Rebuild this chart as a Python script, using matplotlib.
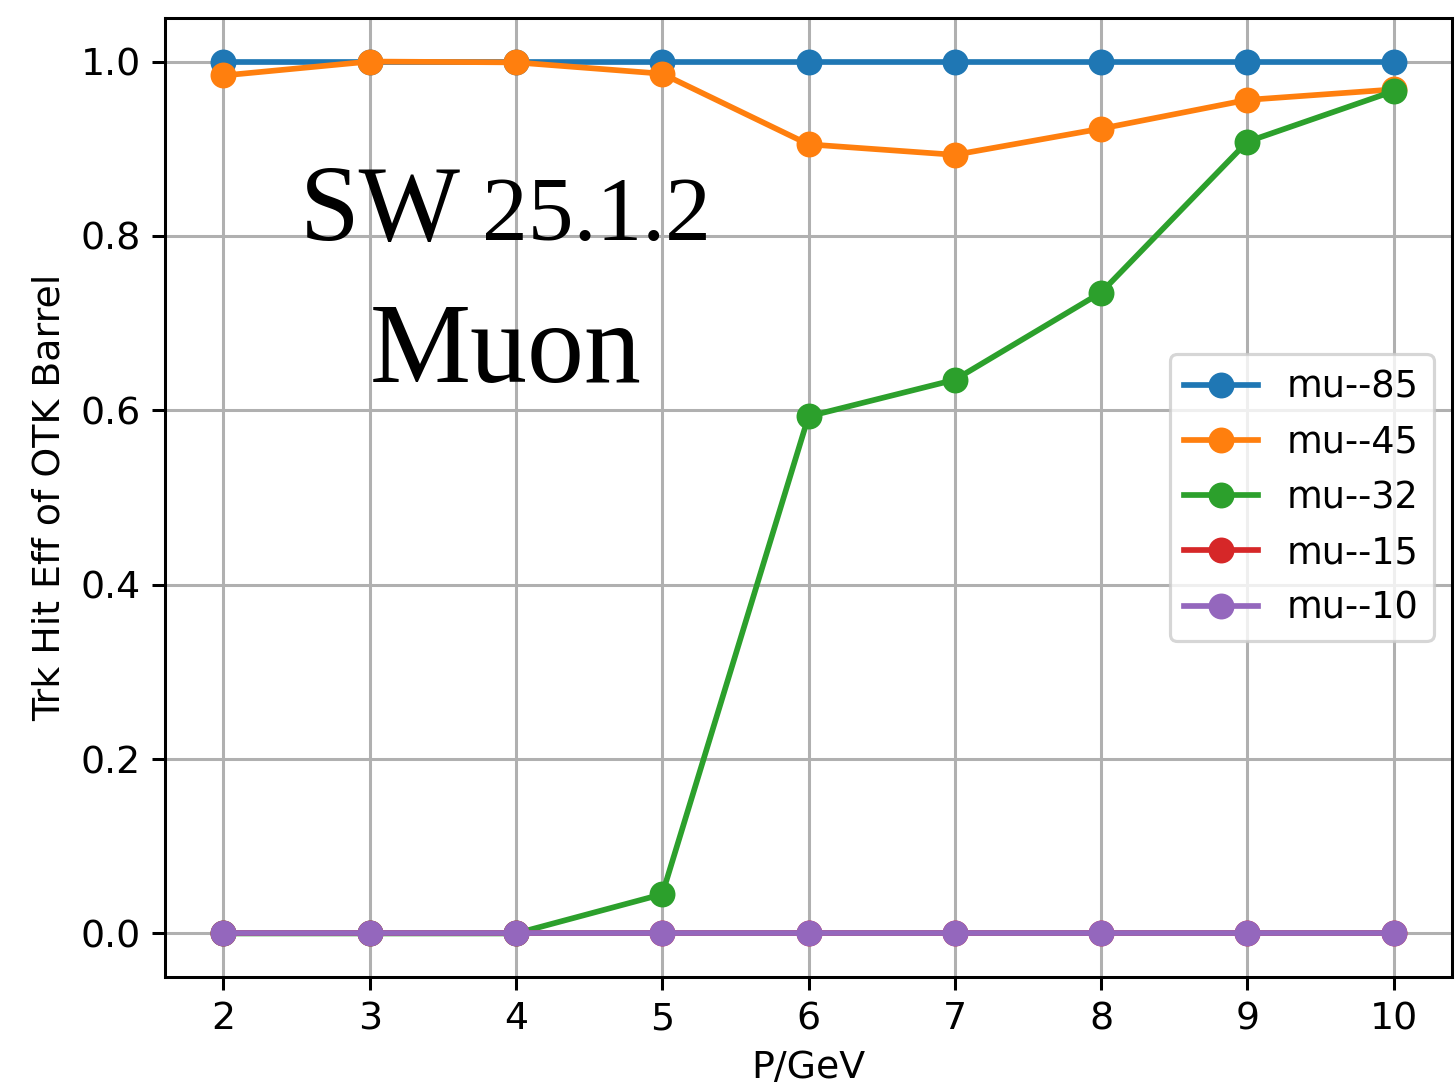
import numpy as np
import matplotlib
matplotlib.use("Agg")
import matplotlib.pyplot as plt

# momentum points (GeV) and OTK barrel hit efficiency per polar angle sample
p_gev = [2, 3, 4, 5, 6, 7, 8, 9, 10]
labels = ["mu--85", "mu--45", "mu--32", "mu--15", "mu--10"]
eff_85 = [1.0, 1.0, 1.0, 1.0, 1.0, 1.0, 1.0, 1.0, 1.0]
eff_45 = [0.984, 1.0, 0.999, 0.986, 0.905, 0.893, 0.923, 0.956, 0.968]
eff_32 = [0.0, 0.0, 0.0, 0.045, 0.593, 0.635, 0.735, 0.908, 0.966]
eff_15 = [0.0, 0.0, 0.0, 0.0, 0.0, 0.0, 0.0, 0.0, 0.0]
eff_10 = [0.0, 0.0, 0.0, 0.0, 0.0, 0.0, 0.0, 0.0, 0.0]

# everything a bit bigger than the defaults
s = 1.2
plt.rcParams.update({
    'font.size': 10 * s,
    'lines.linewidth': 1.5 * s,
    'lines.markersize': 6 * s,
    'axes.linewidth': 0.8 * s,
    'grid.linewidth': 0.8 * s,
    'xtick.major.size': 3.5 * s,
    'ytick.major.size': 3.5 * s,
    'xtick.major.width': 0.8 * s,
    'ytick.major.width': 0.8 * s,
})


def main():
    fig = plt.figure(figsize=(6.4, 4.787), dpi=227.5)
    ax = fig.add_axes([0.1133, 0.1028, 0.884, 0.8807])

    for eff, lab in zip([eff_85, eff_45, eff_32, eff_15, eff_10], labels):
        ax.plot(p_gev, eff, marker='o', label=lab)

    ax.set_xlabel("P/GeV")
    ax.set_ylabel("Trk Hit Eff of OTK Barrel")
    ax.grid(True)
    ax.legend(loc='center right', fontsize=11.6)

    serif = "Liberation Serif"
    ax.text(2.52, 0.795, "SW", fontsize=34, family=serif,
            ha='left', va='baseline')
    ax.text(3.77, 0.795, "25.1.2", fontsize=29, family=serif,
            ha='left', va='baseline')
    ax.text(3.93, 0.633, "Muon", fontsize=36, family=serif,
            ha='center', va='baseline')

    fig.savefig("out.png", dpi=227.5)


if __name__ == '__main__':
    main()
